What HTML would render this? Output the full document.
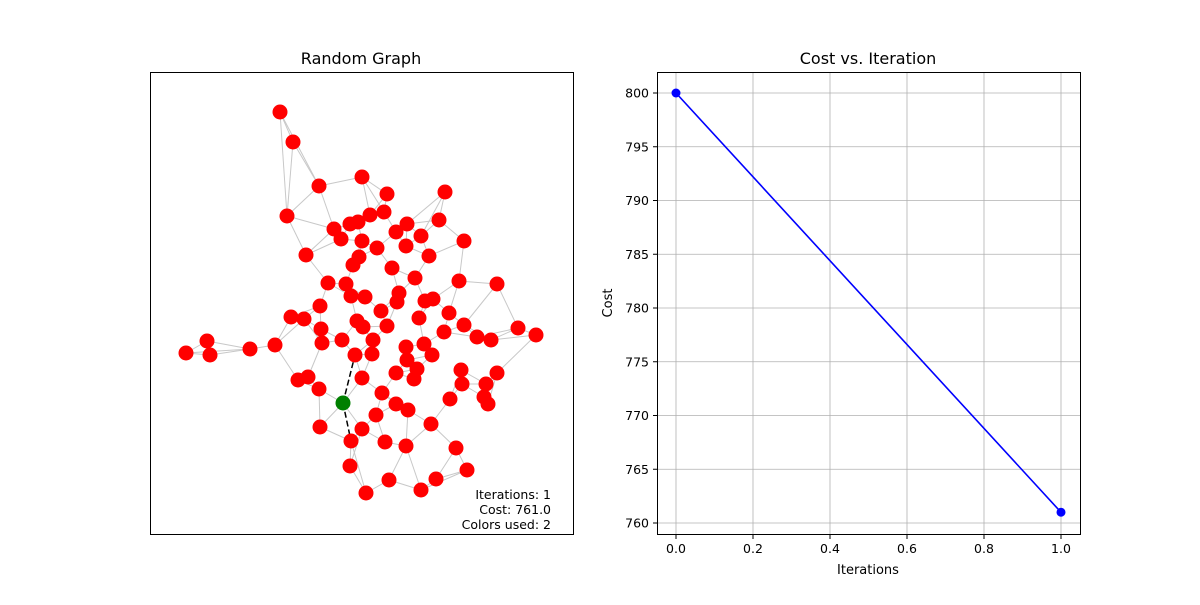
<!DOCTYPE html>
<html><head><meta charset="utf-8"><style>
body{margin:0;background:#fff;font-family:"Liberation Sans","DejaVu Sans",sans-serif}
svg text{font-family:"DejaVu Sans","Liberation Sans",sans-serif}
</style></head><body>
<svg id="fig" width="1200" height="600">
<rect width="1200" height="600" fill="#fff"/>
<g id="left">
<text x="361" y="64" font-size="16" text-anchor="middle">Random Graph</text>
<g id="edges"></g><g id="nodes"></g>
<rect x="150.5" y="72.5" width="423" height="462" fill="none" stroke="#000"/>
<rect x="458" y="484" width="98" height="50" fill="#fff" opacity="0.8"/>
<text x="551" y="499" font-size="12.5" text-anchor="end">Iterations: 1</text>
<text x="551" y="514" font-size="12.5" text-anchor="end">Cost: 761.0</text>
<text x="551" y="529" font-size="12.5" text-anchor="end">Colors used: 2</text>
</g>
<g id="right">
<text x="868" y="64" font-size="16" text-anchor="middle">Cost vs. Iteration</text>
<g id="grid"></g><g id="line"></g>
<rect x="657.5" y="72.5" width="423" height="462" fill="none" stroke="#000"/>
<text x="868" y="574" font-size="13" text-anchor="middle">Iterations</text>
<text x="612" y="303" font-size="13" text-anchor="middle" transform="rotate(-90 612 303)">Cost</text>
</g>
</svg>
<script>
const nodeX=[280,293,319,362,387,445,287,334,350,358,370,384,407,439,341,362,377,396,406,421,464,306,359,353,392,429,415,459,497,328,346,365,351,399,397,425,433,320,381,419,449,291,304,357,363,387,321,464,444,477,491,518,536,207,186,210,250,275,322,342,373,406,424,355,372,407,432,417,396,362,414,298,308,319,461,462,497,486,343,382,450,396,408,484,488,376,362,320,431,351,385,406,456,350,467,389,436,366,421];
const nodeY=[112,142,186,177,194,192,216,229,224,222,215,212,224,220,239,241,248,232,246,236,241,255,257,265,268,256,278,281,284,283,284,297,296,293,302,301,299,306,311,318,313,317,319,321,327,326,329,325,332,337,340,328,335,341,353,355,349,345,343,340,340,347,344,355,354,360,355,369,373,378,379,380,377,389,370,384,373,384,403,393,399,404,410,397,404,415,429,427,424,441,442,446,448,466,470,480,479,493,490];
const greenNode=78;
const iterations=[0,1];
const costs=[800,761];
const xTicks=[0,0.2,0.4,0.6,0.8,1.0];
const yTicks=[760,765,770,775,780,785,790,795,800];
const NS='http://www.w3.org/2000/svg';
function mk(t,a,p){const e=document.createElementNS(NS,t);for(const k in a)e.setAttribute(k,a[k]);p.appendChild(e);return e;}
// edges: each node to its 3 nearest neighbours
const eg=document.getElementById('edges'),ng=document.getElementById('nodes');
const seen={};
for(let i=0;i<nodeX.length;i++){
 const d=[];for(let j=0;j<nodeX.length;j++)if(j!==i)d.push([Math.hypot(nodeX[i]-nodeX[j],nodeY[i]-nodeY[j]),j]);
 d.sort((a,b)=>a[0]-b[0]);
 for(let k=0;k<3;k++){const j=d[k][1];const key=Math.min(i,j)+'-'+Math.max(i,j);if(seen[key])continue;seen[key]=1;
  const l=mk('line',{x1:nodeX[i],y1:nodeY[i],x2:nodeX[j],y2:nodeY[j],stroke:'#c8c8c8','stroke-width':1},eg);
  
  }
}
[[78,63],[78,89]].forEach(([a,b])=>{const l=mk('line',{x1:nodeX[a],y1:nodeY[a],x2:nodeX[b],y2:nodeY[b],stroke:'#000','stroke-width':1.5,'stroke-dasharray':'6,3'},eg);
 
 });
for(let i=0;i<nodeX.length;i++){
 const c=mk('circle',{cx:nodeX[i],cy:nodeY[i],r:7.5,fill:i===greenNode?'#008000':'#ff0000'},ng);
 
 
}
// right chart
const X=v=>676+(v-0)*(1061-676),Y=v=>93+(800-v)*(523-93)/40;
const gg=document.getElementById('grid'),lg=document.getElementById('line');
xTicks.forEach(t=>{const x=X(t);mk('line',{x1:x,y1:72,x2:x,y2:535,stroke:'#b0b0b0','stroke-width':0.8},gg);mk('line',{x1:x,y1:535,x2:x,y2:539,stroke:'#000'},gg);
 const tx=mk('text',{x:x,y:553,'font-size':12.5,'text-anchor':'middle'},gg);tx.textContent=t.toFixed(1);
 
 });
yTicks.forEach(t=>{const y=Y(t);mk('line',{x1:657,y1:y,x2:1080,y2:y,stroke:'#b0b0b0','stroke-width':0.8},gg);mk('line',{x1:653,y1:y,x2:657,y2:y,stroke:'#000'},gg);
 const tx=mk('text',{x:649,y:y+4.5,'font-size':12.5,'text-anchor':'end'},gg);tx.textContent=t;
 
 });
const pl=mk('polyline',{points:iterations.map((v,i)=>X(v)+','+Y(costs[i])).join(' '),fill:'none',stroke:'#0000ff','stroke-width':1.6},lg);


iterations.forEach((v,i)=>{const c=mk('circle',{cx:X(v),cy:Y(costs[i]),r:4.5,fill:'#0000ff'},lg);
 
 });
</script>
</body></html>
